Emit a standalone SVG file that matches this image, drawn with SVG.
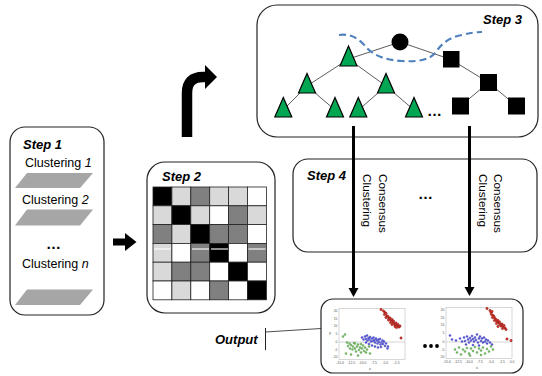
<svg xmlns="http://www.w3.org/2000/svg" width="542" height="376" viewBox="0 0 542 376">
<defs>
<style>
.box{fill:#fff;stroke:#222;stroke-width:1.2}
.step{font-family:"Liberation Sans",Arial,sans-serif;font-size:13px;font-weight:bold;font-style:italic;fill:#000}
.lbl{font-family:"Liberation Sans",Arial,sans-serif;font-size:12.5px;fill:#000}
.rot{font-family:"Liberation Sans",Arial,sans-serif;font-size:11.8px;fill:#000}
.dots{font-family:"Liberation Sans",Arial,sans-serif;font-size:15px;font-weight:bold;fill:#000}
.para{fill:#a6a6a6}
.k{fill:#000;stroke:#222;stroke-width:.8}
.d{fill:#808080;stroke:#222;stroke-width:.8}
.l{fill:#d9d9d9;stroke:#222;stroke-width:.8}
.w{fill:#fff;stroke:#222;stroke-width:.8}
.tri{fill:#00a651;stroke:#000;stroke-width:1.2}
.sq{fill:#000}
.edge{stroke:#333;stroke-width:.8;fill:none}
.frame{fill:#fff;stroke:#bdbdbd;stroke-width:.6}
.tick{font-family:"Liberation Sans",Arial,sans-serif;font-size:3.4px;fill:#555}
.r{fill:#d93a2e;stroke:#7a1010;stroke-width:.4}
.b{fill:#5c5ce0;stroke:#3030a0;stroke-width:.3}
.g{fill:#7cc46c;stroke:#3a7a30;stroke-width:.3}
</style>
</defs>

<g id="step1">
<rect class="box" x="10" y="127" width="94" height="188" rx="15"/>
<text class="step" x="23" y="149">Step 1</text>
<text class="lbl" x="25" y="167">Clustering <tspan font-style="italic">1</tspan></text>
<polygon class="para" points="27,173 93,173 80,188 15,188"/>
<text class="lbl" x="22" y="204">Clustering <tspan font-style="italic">2</tspan></text>
<polygon class="para" points="27,209.5 93,209.5 80,225.5 15,225.5"/>
<text class="dots" x="46" y="249">…</text>
<text class="lbl" x="22" y="268">Clustering <tspan font-style="italic">n</tspan></text>
<polygon class="para" points="27,289.5 93,289.5 80,305 15,305"/>
</g>

<g id="step2">
<rect class="box" x="147" y="162" width="128" height="151" rx="18"/>
<text class="step" x="162" y="181">Step 2</text>
<g transform="translate(153,187)">
<rect class="k" x="0" y="0" width="18.9" height="18.8"/>
<rect class="l" x="18.9" y="0" width="18.9" height="18.8"/>
<rect class="d" x="37.8" y="0" width="18.9" height="18.8"/>
<rect class="l" x="56.7" y="0" width="18.9" height="18.8"/>
<rect class="l" x="75.6" y="0" width="18.9" height="18.8"/>
<rect class="w" x="94.5" y="0" width="18.9" height="18.8"/>
<rect class="l" x="0" y="18.8" width="18.9" height="18.8"/>
<rect class="k" x="18.9" y="18.8" width="18.9" height="18.8"/>
<rect class="l" x="37.8" y="18.8" width="18.9" height="18.8"/>
<rect class="w" x="56.7" y="18.8" width="18.9" height="18.8"/>
<rect class="d" x="75.6" y="18.8" width="18.9" height="18.8"/>
<rect class="l" x="94.5" y="18.8" width="18.9" height="18.8"/>
<rect class="d" x="0" y="37.6" width="18.9" height="18.8"/>
<rect class="l" x="18.9" y="37.6" width="18.9" height="18.8"/>
<rect class="k" x="37.8" y="37.6" width="18.9" height="18.8"/>
<rect class="d" x="56.7" y="37.6" width="18.9" height="18.8"/>
<rect class="d" x="75.6" y="37.6" width="18.9" height="18.8"/>
<rect class="w" x="94.5" y="37.6" width="18.9" height="18.8"/>
<rect class="l" x="0" y="56.4" width="18.9" height="18.8"/>
<rect class="w" x="18.9" y="56.4" width="18.9" height="18.8"/>
<rect class="d" x="37.8" y="56.4" width="18.9" height="18.8"/>
<rect class="k" x="56.7" y="56.4" width="18.9" height="18.8"/>
<rect class="w" x="75.6" y="56.4" width="18.9" height="18.8"/>
<rect class="d" x="94.5" y="56.4" width="18.9" height="18.8"/>
<rect class="l" x="0" y="75.2" width="18.9" height="18.8"/>
<rect class="d" x="18.9" y="75.2" width="18.9" height="18.8"/>
<rect class="d" x="37.8" y="75.2" width="18.9" height="18.8"/>
<rect class="w" x="56.7" y="75.2" width="18.9" height="18.8"/>
<rect class="k" x="75.6" y="75.2" width="18.9" height="18.8"/>
<rect class="w" x="94.5" y="75.2" width="18.9" height="18.8"/>
<rect class="w" x="0" y="94" width="18.9" height="18.8"/>
<rect class="l" x="18.9" y="94" width="18.9" height="18.8"/>
<rect class="w" x="37.8" y="94" width="18.9" height="18.8"/>
<rect class="d" x="56.7" y="94" width="18.9" height="18.8"/>
<rect class="w" x="75.6" y="94" width="18.9" height="18.8"/>
<rect class="k" x="94.5" y="94" width="18.9" height="18.8"/>
<g stroke="#fff" stroke-width="1.1">
<line x1="1" y1="62" x2="18" y2="62"/>
<line x1="39" y1="62" x2="56" y2="62"/>
<line x1="58" y1="62" x2="75" y2="62"/>
<line x1="95.5" y1="62" x2="112.5" y2="62"/>
</g>
</g>
</g>

<g id="step3">
<rect class="box" x="257" y="5" width="281" height="132" rx="20"/>
<text class="step" x="483" y="24">Step 3</text>
<g class="edge">
<line x1="400" y1="42" x2="348.5" y2="59"/>
<line x1="400" y1="42" x2="451" y2="59.5"/>
<line x1="348.5" y1="59" x2="307" y2="86"/>
<line x1="348.5" y1="59" x2="386" y2="86"/>
<line x1="307" y1="86" x2="283" y2="110"/>
<line x1="307" y1="86" x2="335" y2="110"/>
<line x1="386" y1="86" x2="358.5" y2="110"/>
<line x1="386" y1="86" x2="414" y2="110"/>
<line x1="451" y1="59.5" x2="488.5" y2="82.5"/>
<line x1="488.5" y1="82.5" x2="460.5" y2="106"/>
<line x1="488.5" y1="82.5" x2="516.5" y2="106"/>
</g>
<circle cx="400" cy="42" r="8.5" fill="#000"/>
<polygon class="tri" points="348.5,46 357,66 340,66"/>
<polygon class="tri" points="307,73.5 315.5,93 298.5,93"/>
<polygon class="tri" points="386,73.5 394.5,93 377.5,93"/>
<polygon class="tri" points="283.3,97.5 291.8,117 274.8,117"/>
<polygon class="tri" points="335,97.5 343.5,117 326.5,117"/>
<polygon class="tri" points="358.3,97.5 366.8,117 349.8,117"/>
<polygon class="tri" points="414,97.5 422.5,117 405.5,117"/>
<rect class="sq" x="443" y="51" width="16.5" height="16.5"/>
<rect class="sq" x="480" y="74" width="17" height="17"/>
<rect class="sq" x="452" y="97.5" width="17" height="17"/>
<rect class="sq" x="508" y="97.5" width="17" height="17"/>
<text class="dots" x="427" y="116">…</text>
<path d="M339,35 C352,33 360,40 366,47 C374,56 386,60 402,61 C418,62 430,60 436,52 C442,43 450,37 462,35 C470,33 476,32 482,32" fill="none" stroke="#4f81bd" stroke-width="2.2" stroke-dasharray="7,4"/>
</g>

<g id="step4">
<rect class="box" x="293" y="159" width="244" height="93" rx="15"/>
<text class="step" x="307" y="180">Step 4</text>
<text class="dots" x="418" y="199">…</text>
</g>

<g id="output">
<rect class="box" x="321" y="299" width="202" height="74" rx="12"/>
<text class="step" x="215" y="344">Output</text>
<line x1="265.5" y1="328" x2="265.5" y2="350" stroke="#222" stroke-width="1"/>
<line x1="265.5" y1="332" x2="321" y2="328.5" stroke="#222" stroke-width=".8"/>
<circle cx="425" cy="346" r="1.9" fill="#000"/>
<circle cx="431" cy="346" r="1.9" fill="#000"/>
<circle cx="437" cy="346" r="1.9" fill="#000"/>
<g id="plot1" transform="translate(339,308.5)">
<rect class="frame" x="0" y="0" width="66" height="51"/>
<line x1="0" y1="33.5" x2="66" y2="33.5" stroke="#aaa" stroke-width=".5"/>
<g class="tick" text-anchor="end">
<text x="-1.5" y="3.5">20</text><text x="-1.5" y="11">15</text><text x="-1.5" y="18.5">10</text><text x="-1.5" y="26">5</text><text x="-1.5" y="34.7">0</text><text x="-1.5" y="42">-5</text><text x="-1.5" y="49">-10</text>
</g>
<g class="tick" text-anchor="middle">
<text x="1" y="55.5">-15.0</text><text x="12.3" y="55.5">-12.5</text><text x="23.6" y="55.5">-10.0</text><text x="35" y="55.5">-7.5</text><text x="46.3" y="55.5">-5.0</text><text x="57.6" y="55.5">-2.5</text>
<text x="31" y="61.5" font-size="4">x</text>
<text x="-9" y="25.5" font-size="4">y</text>
</g>
<g class="r">
<circle cx="42" cy="1" r="1.2"/><circle cx="44.5" cy="2.5" r="1.2"/><circle cx="46" cy="4" r="1.2"/><circle cx="45.5" cy="6" r="1.2"/><circle cx="47" cy="5" r="1.2"/><circle cx="48" cy="7.5" r="1.2"/><circle cx="47" cy="9" r="1.2"/><circle cx="49" cy="8" r="1.2"/><circle cx="50" cy="10" r="1.2"/><circle cx="49.5" cy="11.5" r="1.2"/><circle cx="51" cy="9.5" r="1.2"/><circle cx="52" cy="12" r="1.2"/><circle cx="51.5" cy="14" r="1.2"/><circle cx="53" cy="11" r="1.2"/><circle cx="54" cy="13.5" r="1.2"/><circle cx="55" cy="15" r="1.2"/><circle cx="54.5" cy="12.5" r="1.2"/><circle cx="56" cy="16.5" r="1.2"/><circle cx="57" cy="14.5" r="1.2"/><circle cx="58" cy="17" r="1.2"/><circle cx="57.5" cy="19" r="1.2"/><circle cx="59" cy="16" r="1.2"/><circle cx="60" cy="18.5" r="1.2"/><circle cx="61" cy="17.5" r="1.2"/><circle cx="53" cy="16" r="1.2"/><circle cx="56" cy="18" r="1.2"/><circle cx="62" cy="29.5" r="1.2"/>
</g>
<g class="b">
<circle cx="23" cy="29" r="1.1"/><circle cx="24.5" cy="31" r="1.1"/><circle cx="26" cy="28" r="1.1"/><circle cx="27" cy="30.5" r="1.1"/><circle cx="28" cy="27" r="1.1"/><circle cx="28.5" cy="32" r="1.1"/><circle cx="29.5" cy="29.5" r="1.1"/><circle cx="30.5" cy="31" r="1.1"/><circle cx="31" cy="28.5" r="1.1"/><circle cx="32" cy="33" r="1.1"/><circle cx="33" cy="30" r="1.1"/><circle cx="34" cy="32.5" r="1.1"/><circle cx="34.5" cy="29" r="1.1"/><circle cx="35.5" cy="31.5" r="1.1"/><circle cx="36" cy="34" r="1.1"/><circle cx="37" cy="30" r="1.1"/><circle cx="38" cy="32" r="1.1"/><circle cx="38.5" cy="35" r="1.1"/><circle cx="39.5" cy="31" r="1.1"/><circle cx="40" cy="33.5" r="1.1"/><circle cx="41" cy="30.5" r="1.1"/><circle cx="41.5" cy="36" r="1.1"/><circle cx="42.5" cy="34" r="1.1"/><circle cx="43.5" cy="32" r="1.1"/><circle cx="44" cy="35.5" r="1.1"/><circle cx="45" cy="33" r="1.1"/><circle cx="46" cy="37.5" r="1.1"/><circle cx="47" cy="35" r="1.1"/><circle cx="48.5" cy="40" r="1.1"/><circle cx="49" cy="38" r="1.1"/><circle cx="30" cy="35.5" r="1.1"/><circle cx="33" cy="37" r="1.1"/><circle cx="36" cy="38" r="1.1"/><circle cx="39" cy="39" r="1.1"/><circle cx="42" cy="38.5" r="1.1"/><circle cx="27" cy="34" r="1.1"/>
</g>
<g class="g">
<circle cx="4" cy="28" r="1.1"/><circle cx="6" cy="26" r="1.1"/><circle cx="8" cy="34" r="1.1"/><circle cx="9" cy="37.5" r="1.1"/><circle cx="10.5" cy="35" r="1.1"/><circle cx="11" cy="40" r="1.1"/><circle cx="12" cy="36.5" r="1.1"/><circle cx="13.5" cy="41" r="1.1"/><circle cx="14" cy="38" r="1.1"/><circle cx="15" cy="34.5" r="1.1"/><circle cx="16" cy="40" r="1.1"/><circle cx="17" cy="43" r="1.1"/><circle cx="18" cy="38" r="1.1"/><circle cx="19" cy="36" r="1.1"/><circle cx="20" cy="41.5" r="1.1"/><circle cx="21" cy="39" r="1.1"/><circle cx="22" cy="44" r="1.1"/><circle cx="23" cy="40" r="1.1"/><circle cx="24" cy="37" r="1.1"/><circle cx="25" cy="42.5" r="1.1"/><circle cx="26" cy="39" r="1.1"/><circle cx="27" cy="44" r="1.1"/><circle cx="28" cy="41" r="1.1"/><circle cx="30" cy="38" r="1.1"/><circle cx="31" cy="45" r="1.1"/><circle cx="7" cy="45" r="1.1"/><circle cx="12" cy="46" r="1.1"/><circle cx="19" cy="47" r="1.1"/><circle cx="16" cy="35" r="1.1"/><circle cx="22" cy="35.5" r="1.1"/>
</g>
</g>
<g id="plot2" transform="translate(446,307.5)">
<rect class="frame" x="0" y="0" width="66" height="51"/>
<line x1="0" y1="34.5" x2="66" y2="34.5" stroke="#aaa" stroke-width=".5"/>
<g class="tick" text-anchor="end">
<text x="-1.5" y="3.5">20</text><text x="-1.5" y="11">15</text><text x="-1.5" y="18.5">10</text><text x="-1.5" y="26">5</text><text x="-1.5" y="35.7">0</text><text x="-1.5" y="43">-5</text><text x="-1.5" y="50">-10</text>
</g>
<g class="tick" text-anchor="middle">
<text x="1" y="55.5">-15.0</text><text x="12" y="55.5">-12.5</text><text x="23" y="55.5">-10.0</text><text x="34" y="55.5">-7.5</text><text x="45" y="55.5">-5.0</text><text x="56" y="55.5">-2.5</text><text x="66" y="55.5">0.0</text>
<text x="31" y="61.5" font-size="4">x</text>
</g>
<g class="r">
<circle cx="41" cy="1" r="1.2"/><circle cx="44" cy="3" r="1.2"/><circle cx="45" cy="5" r="1.2"/><circle cx="46" cy="4" r="1.2"/><circle cx="45.5" cy="7" r="1.2"/><circle cx="47" cy="8" r="1.2"/><circle cx="46.5" cy="10" r="1.2"/><circle cx="48" cy="9" r="1.2"/><circle cx="49" cy="11" r="1.2"/><circle cx="48.5" cy="13" r="1.2"/><circle cx="50" cy="12" r="1.2"/><circle cx="51" cy="14" r="1.2"/><circle cx="50.5" cy="16" r="1.2"/><circle cx="52" cy="13" r="1.2"/><circle cx="53" cy="15.5" r="1.2"/><circle cx="54" cy="17" r="1.2"/><circle cx="53.5" cy="14.5" r="1.2"/><circle cx="55" cy="18.5" r="1.2"/><circle cx="56" cy="16.5" r="1.2"/><circle cx="57" cy="19" r="1.2"/><circle cx="56.5" cy="21" r="1.2"/><circle cx="58" cy="18" r="1.2"/><circle cx="59" cy="20.5" r="1.2"/><circle cx="60" cy="22" r="1.2"/><circle cx="52" cy="19" r="1.2"/><circle cx="61" cy="31.5" r="1.2"/><circle cx="65" cy="33" r="1.2"/>
</g>
<g class="b">
<circle cx="4" cy="28" r="1.1"/><circle cx="6" cy="32" r="1.1"/><circle cx="10" cy="33" r="1.1"/><circle cx="14" cy="31" r="1.1"/><circle cx="16" cy="34" r="1.1"/><circle cx="18" cy="30" r="1.1"/><circle cx="19" cy="33.5" r="1.1"/><circle cx="21" cy="29" r="1.1"/><circle cx="22" cy="32" r="1.1"/><circle cx="23" cy="35" r="1.1"/><circle cx="24" cy="30.5" r="1.1"/><circle cx="25" cy="33" r="1.1"/><circle cx="26" cy="28.5" r="1.1"/><circle cx="27" cy="31.5" r="1.1"/><circle cx="28" cy="34" r="1.1"/><circle cx="29" cy="30" r="1.1"/><circle cx="30" cy="32.5" r="1.1"/><circle cx="31" cy="27" r="1.1"/><circle cx="32" cy="35" r="1.1"/><circle cx="33" cy="31" r="1.1"/><circle cx="34" cy="29" r="1.1"/><circle cx="35" cy="33.5" r="1.1"/><circle cx="36" cy="31" r="1.1"/><circle cx="37" cy="35" r="1.1"/><circle cx="38" cy="30" r="1.1"/><circle cx="39" cy="34" r="1.1"/><circle cx="40" cy="32" r="1.1"/><circle cx="41" cy="36" r="1.1"/><circle cx="42" cy="33" r="1.1"/><circle cx="44" cy="35" r="1.1"/><circle cx="46" cy="37" r="1.1"/><circle cx="20" cy="37" r="1.1"/><circle cx="27" cy="37.5" r="1.1"/><circle cx="33" cy="38" r="1.1"/>
</g>
<g class="g">
<circle cx="9" cy="42" r="1.1"/><circle cx="11" cy="45" r="1.1"/><circle cx="13" cy="40" r="1.1"/><circle cx="15" cy="47" r="1.1"/><circle cx="17" cy="42" r="1.1"/><circle cx="19" cy="44" r="1.1"/><circle cx="21" cy="40.5" r="1.1"/><circle cx="23" cy="46" r="1.1"/><circle cx="25" cy="41" r="1.1"/><circle cx="27" cy="43.5" r="1.1"/><circle cx="29" cy="39.5" r="1.1"/><circle cx="31" cy="45" r="1.1"/><circle cx="33" cy="41" r="1.1"/><circle cx="35" cy="43" r="1.1"/><circle cx="37" cy="40" r="1.1"/><circle cx="39" cy="46" r="1.1"/><circle cx="41" cy="41.5" r="1.1"/><circle cx="43" cy="44" r="1.1"/><circle cx="45" cy="39" r="1.1"/><circle cx="47" cy="42" r="1.1"/><circle cx="24" cy="48" r="1.1"/><circle cx="35" cy="47.5" r="1.1"/>
</g>
</g>
</g>

<g id="connectors">
<rect x="113" y="238.5" width="13" height="7" fill="#000"/>
<polygon points="125,233 136.5,242 125,251" fill="#000"/>
<path d="M187,137 V93 Q187,77 203,77 H207" fill="none" stroke="#000" stroke-width="10.5"/>
<polygon points="205,65 217,77 205,89" fill="#000"/>
<line x1="353.5" y1="126" x2="353.5" y2="289" stroke="#000" stroke-width="3"/>
<polygon points="348.5,288 358.5,288 353.5,297" fill="#000"/>
<line x1="469.5" y1="126" x2="469.5" y2="288" stroke="#000" stroke-width="3"/>
<polygon points="464.5,287 474.5,287 469.5,296" fill="#000"/>
</g>

<g id="labels4">
<text class="rot" transform="translate(378.5,174) rotate(90)">Consensus</text>
<text class="rot" transform="translate(363,174) rotate(90)">Clustering</text>
<text class="rot" transform="translate(494,174) rotate(90)">Consensus</text>
<text class="rot" transform="translate(479,174) rotate(90)">Clustering</text>
</g>
</svg>
